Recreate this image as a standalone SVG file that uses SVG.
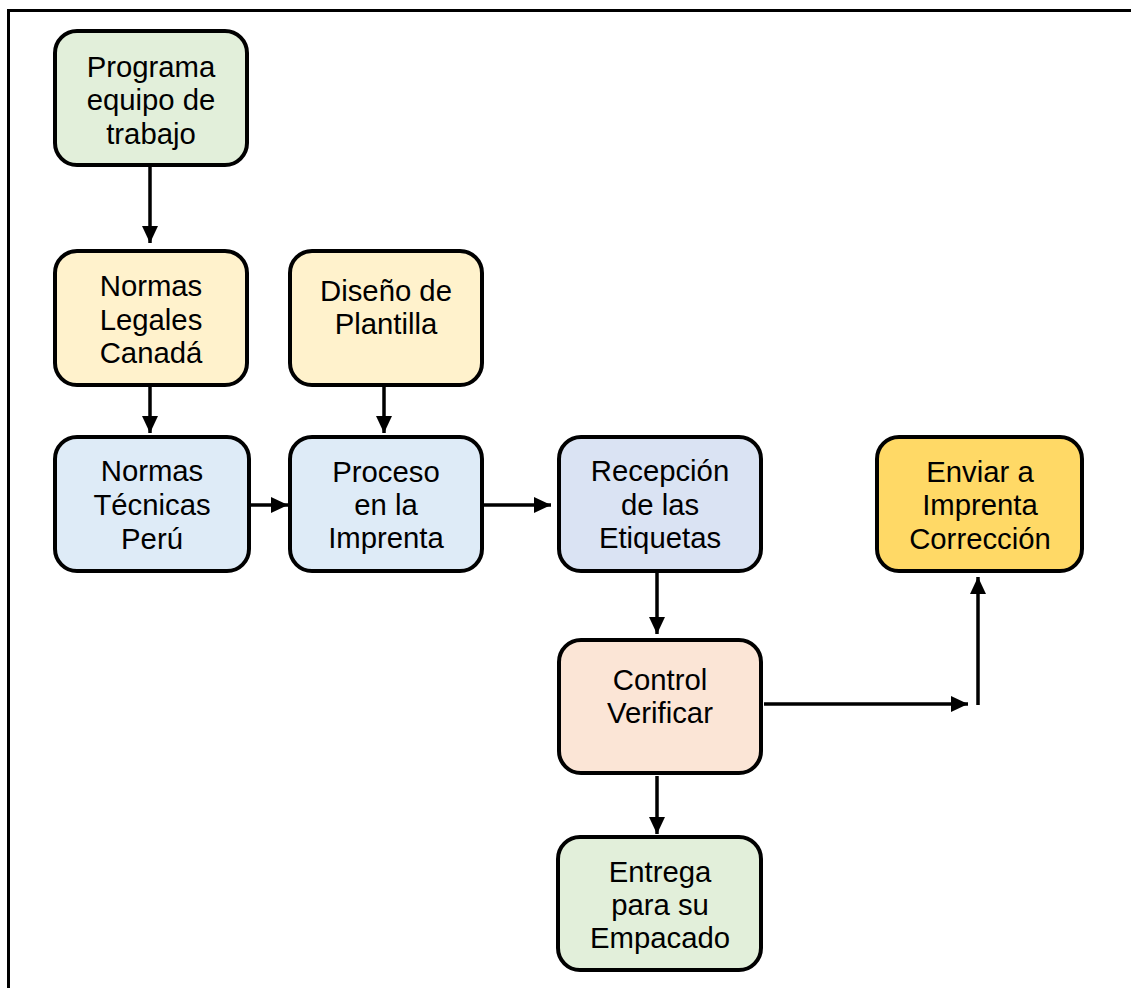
<svg xmlns="http://www.w3.org/2000/svg" width="1131" height="988" viewBox="0 0 1131 988">
<style>
.box{stroke:#000;stroke-width:4}
.t{font-family:"Liberation Sans",Arial,sans-serif;font-size:29.3px;fill:#000;text-anchor:middle}
.c{stroke:#000;stroke-width:3.5;fill:none}
</style>
<defs>
<marker id="ah" markerUnits="userSpaceOnUse" markerWidth="18" markerHeight="18" refX="17" refY="8" orient="auto">
<path d="M0,0 L17,8 L0,16 Z" fill="#000"/>
</marker>
</defs>
<rect x="0" y="0" width="1131" height="988" fill="#fff"/>
<rect x="8.5" y="10.5" width="1200" height="1100" fill="none" stroke="#000" stroke-width="3"/>
<g id="connectors">
<line class="c" x1="150" y1="167" x2="150" y2="243" marker-end="url(#ah)"/>
<line class="c" x1="150" y1="386" x2="150" y2="433" marker-end="url(#ah)"/>
<line class="c" x1="384" y1="386" x2="384" y2="433" marker-end="url(#ah)"/>
<line class="c" x1="251" y1="505" x2="288" y2="505" marker-end="url(#ah)"/>
<line class="c" x1="484" y1="505" x2="551" y2="505" marker-end="url(#ah)"/>
<line class="c" x1="657" y1="573" x2="657" y2="634" marker-end="url(#ah)"/>
<line class="c" x1="764" y1="704" x2="968" y2="704" marker-end="url(#ah)"/>
<line class="c" x1="978" y1="705" x2="978" y2="577" marker-end="url(#ah)"/>
<line class="c" x1="657" y1="776" x2="657" y2="834" marker-end="url(#ah)"/>
</g>
<g id="n1"><rect class="box" x="55" y="31" width="192" height="134" rx="22" fill="#e2efda"/>
<text class="t" x="151" y="77">Programa</text><text class="t" x="151" y="110">equipo de</text><text class="t" x="151" y="144">trabajo</text></g>
<g id="n2"><rect class="box" x="55" y="251" width="192" height="134" rx="22" fill="#fff2cc"/>
<text class="t" x="151" y="296">Normas</text><text class="t" x="151" y="330">Legales</text><text class="t" x="151" y="363">Canadá</text></g>
<g id="n3"><rect class="box" x="290" y="251" width="192" height="134" rx="22" fill="#fff2cc"/>
<text class="t" x="386" y="301">Diseño de</text><text class="t" x="386" y="334">Plantilla</text></g>
<g id="n4"><rect class="box" x="55" y="437" width="194" height="134" rx="22" fill="#deebf7"/>
<text class="t" x="152" y="481">Normas</text><text class="t" x="152" y="515">Técnicas</text><text class="t" x="152" y="549">Perú</text></g>
<g id="n5"><rect class="box" x="290" y="437" width="192" height="134" rx="22" fill="#deebf7"/>
<text class="t" x="386" y="482">Proceso</text><text class="t" x="386" y="515">en la</text><text class="t" x="386" y="548">Imprenta</text></g>
<g id="n6"><rect class="box" x="559" y="437" width="202" height="134" rx="22" fill="#dae3f3"/>
<text class="t" x="660" y="481">Recepción</text><text class="t" x="660" y="515">de las</text><text class="t" x="660" y="548">Etiquetas</text></g>
<g id="n7"><rect class="box" x="877" y="437" width="205" height="134" rx="22" fill="#ffd966"/>
<text class="t" x="980" y="482">Enviar a</text><text class="t" x="980" y="515">Imprenta</text><text class="t" x="980" y="549">Corrección</text></g>
<g id="n8"><rect class="box" x="559" y="640" width="202" height="133" rx="22" fill="#fbe5d6"/>
<text class="t" x="660" y="690">Control</text><text class="t" x="660" y="723">Verificar</text></g>
<g id="n9"><rect class="box" x="558" y="837" width="203" height="133" rx="22" fill="#e2efda"/>
<text class="t" x="660" y="882">Entrega</text><text class="t" x="660" y="915">para su</text><text class="t" x="660" y="948">Empacado</text></g>
</svg>
